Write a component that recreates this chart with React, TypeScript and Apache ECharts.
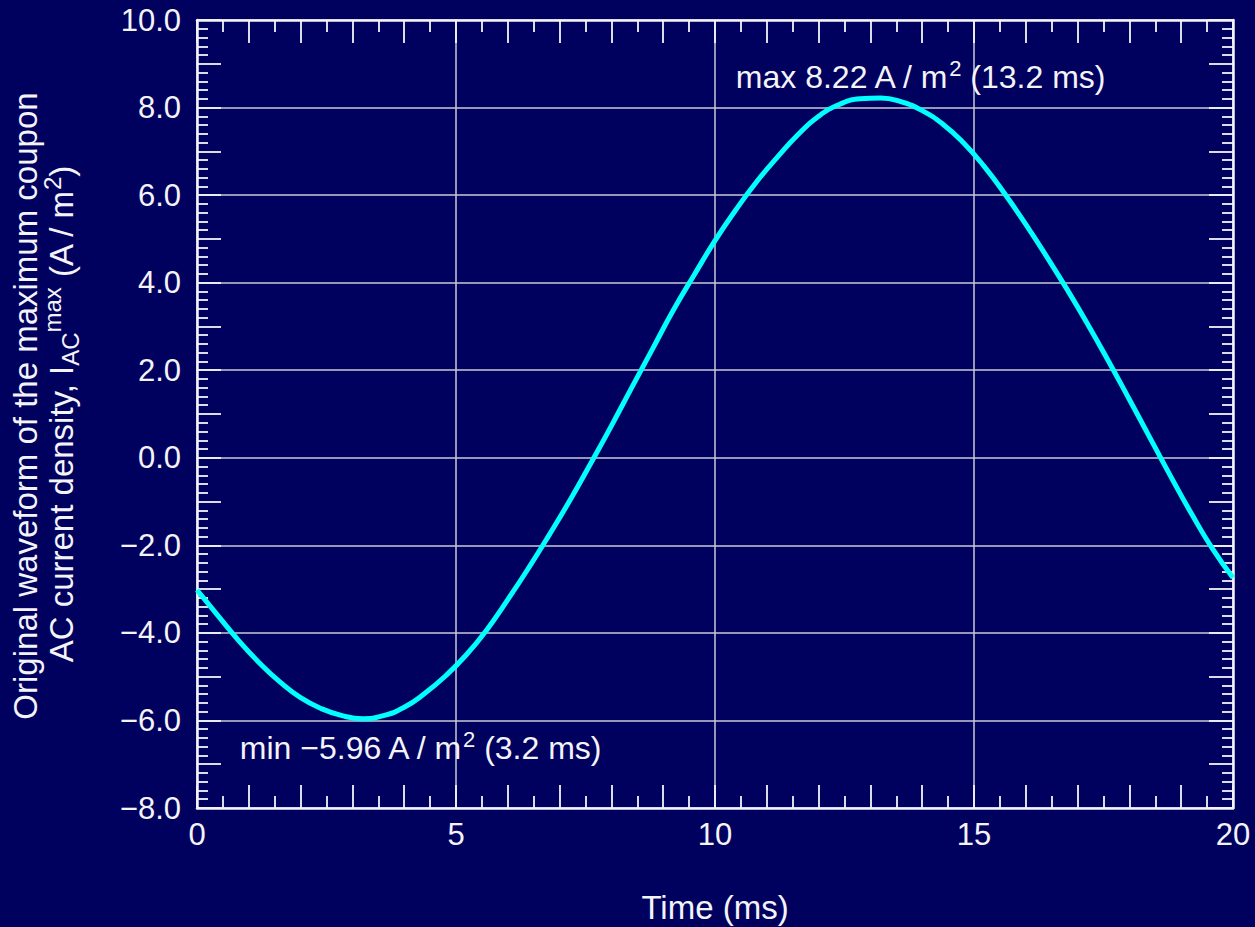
import React, { useEffect, useRef } from 'react';
import * as echarts from 'echarts';

// ---- data (every 0.4 ms) ----
const timeMs = [
  0, 0.4, 0.8, 1.2, 1.6, 2.0, 2.4, 2.8, 3.2, 3.6, 4.0, 4.4, 4.8, 5.2, 5.6, 6.0, 6.4,
  6.8, 7.2, 7.6, 8.0, 8.4, 8.8, 9.2, 9.6, 10.0, 10.4, 10.8, 11.2, 11.6, 12.0, 12.4,
  12.8, 13.2, 13.6, 14.0, 14.4, 14.8, 15.2, 15.6, 16.0, 16.4, 16.8, 17.2, 17.6, 18.0,
  18.4, 18.8, 19.2, 19.6, 20.0,
];
const currentDensity = [
  -3.02, -3.60, -4.17, -4.68, -5.12, -5.48, -5.73, -5.89, -5.96, -5.89, -5.70, -5.38,
  -4.98, -4.50, -3.92, -3.24, -2.52, -1.76, -0.97, -0.13, 0.73, 1.62, 2.50, 3.38, 4.18,
  4.96, 5.66, 6.30, 6.86, 7.38, 7.80, 8.07, 8.20, 8.22, 8.13, 7.93, 7.62, 7.19, 6.65,
  6.02, 5.33, 4.60, 3.84, 3.04, 2.20, 1.33, 0.45, -0.43, -1.28, -2.07, -2.74,
];
const maxPoint = [13.2, 8.22];
const minPoint = [3.2, -5.96];
const xRange = [0, 20];
const yRange = [-8, 10];
const xLabelStep = 5;
const yLabelStep = 2;

const BG = '#00005e';
const FG = '#f4f4f8';
const GRID = '#c9c9d6';
const FONT = '"Liberation Sans", Arial, Helvetica, sans-serif';

const fmtY = (v: number) => (v < 0 ? '\u2212' : '') + Math.abs(v).toFixed(1);

export default function App() {
  const ref = useRef<HTMLDivElement>(null);
  useEffect(() => {
    if (!ref.current) return;
    const chart = echarts.init(ref.current, null, { renderer: 'svg' });
    const tickStyle = { color: FG, width: 1.8 };
    const minorX = (position: 'top' | 'bottom', line: boolean) => ({
      type: 'value', position, min: xRange[0], max: xRange[1], interval: 1,
      axisLine: { show: line, onZero: false, lineStyle: { color: FG, width: 2.5 } },
      axisLabel: { show: false }, splitLine: { show: false },
      axisTick: { show: true, inside: true, length: 23, lineStyle: tickStyle },
      minorTick: { show: true, splitNumber: 2, length: 12, lineStyle: tickStyle },
    });
    const minorY = (position: 'left' | 'right', line: boolean) => ({
      type: 'value', position, min: yRange[0], max: yRange[1], interval: 1,
      axisLine: { show: line, onZero: false, lineStyle: { color: FG, width: 2.5 } },
      axisLabel: { show: false }, splitLine: { show: false },
      axisTick: { show: true, inside: true, length: 24, lineStyle: tickStyle },
      minorTick: { show: true, splitNumber: 5, length: 11, lineStyle: tickStyle },
    });
    const annRich = {
      sup: { fontSize: 22, lineHeight: 22, verticalAlign: 'top', color: FG, fontFamily: FONT },
    };
    const option: any = {
      animation: false,
      backgroundColor: BG,
      grid: {
        left: 197, right: 22, top: 20, bottom: 119,
        containLabel: false, outerBoundsMode: 'none',
      },
      xAxis: [
        {
          type: 'value', position: 'bottom', min: xRange[0], max: xRange[1], interval: xLabelStep,
          axisLine: { show: true, onZero: false, lineStyle: { color: FG, width: 2.5 } },
          axisTick: { show: false },
          axisLabel: { color: FG, fontSize: 31, fontFamily: FONT, margin: 11 },
          splitLine: { show: true, lineStyle: { color: GRID, width: 1.5 } },
          name: 'Time (ms)', nameLocation: 'middle', nameGap: 83,
          nameTextStyle: { color: FG, fontSize: 33, fontFamily: FONT },
        },
        minorX('bottom', false),
        minorX('top', true),
      ],
      yAxis: [
        {
          type: 'value', position: 'left', min: yRange[0], max: yRange[1], interval: yLabelStep,
          axisLine: { show: true, onZero: false, lineStyle: { color: FG, width: 2.5 } },
          axisTick: { show: false },
          axisLabel: { color: FG, fontSize: 31, fontFamily: FONT, margin: 16, formatter: fmtY },
          splitLine: { show: true, lineStyle: { color: GRID, width: 1.5 } },
        },
        minorY('left', false),
        minorY('right', true),
      ],
      graphic: [
        {
          type: 'text', x: 25, y: 406, rotation: Math.PI / 2,
          style: {
            text: 'Original waveform of the maximum coupon',
            fill: FG, fontSize: 33, fontFamily: FONT, align: 'center', verticalAlign: 'middle',
          },
        },
        {
          type: 'text', x: 61, y: 414, rotation: Math.PI / 2,
          style: {
            text: '{a|AC current density, I}{sub|AC}{sup|max}{a| (A / m}{sup|2}{a|)}',
            align: 'center', verticalAlign: 'middle', fill: FG,
            rich: {
              a: { fontSize: 33, fontFamily: FONT, fill: FG, lineHeight: 42 },
              sub: { fontSize: 24, fontFamily: FONT, fill: FG, lineHeight: 22, verticalAlign: 'bottom' },
              sup: { fontSize: 24, fontFamily: FONT, fill: FG, lineHeight: 22, verticalAlign: 'top' },
            },
          },
        },
      ],
      series: [
        {
          type: 'line', xAxisIndex: 0, yAxisIndex: 0,
          data: timeMs.map((t, i) => [t, currentDensity[i]]),
          showSymbol: false, symbol: 'none', smooth: 0.5,
          lineStyle: { color: '#00ffff', width: 5 },
          z: 5,
          markPoint: {
            silent: true, symbol: 'circle', symbolSize: 0,
            label: {
              show: true, position: 'inside', color: FG, fontSize: 32, fontFamily: FONT,
              lineHeight: 38, rich: annRich,
            },
            data: [
              {
                coord: maxPoint,
                label: {
                  offset: [39, -21],
                  formatter: () => `max ${maxPoint[1].toFixed(2)} A / m{sup|2} (${maxPoint[0].toFixed(1)} ms)`,
                },
              },
              {
                coord: minPoint,
                label: {
                  offset: [57, 29],
                  formatter: () => `min \u2212${Math.abs(minPoint[1]).toFixed(2)} A / m{sup|2} (${minPoint[0].toFixed(1)} ms)`,
                },
              },
            ],
          },
        },
      ],
    };
    chart.setOption(option);
    return () => chart.dispose();
  }, []);
  return (
    <div
      ref={ref}
      style={{ position: 'absolute', left: 0, top: 0, width: 1255, height: 927, background: BG }}
    />
  );
}
